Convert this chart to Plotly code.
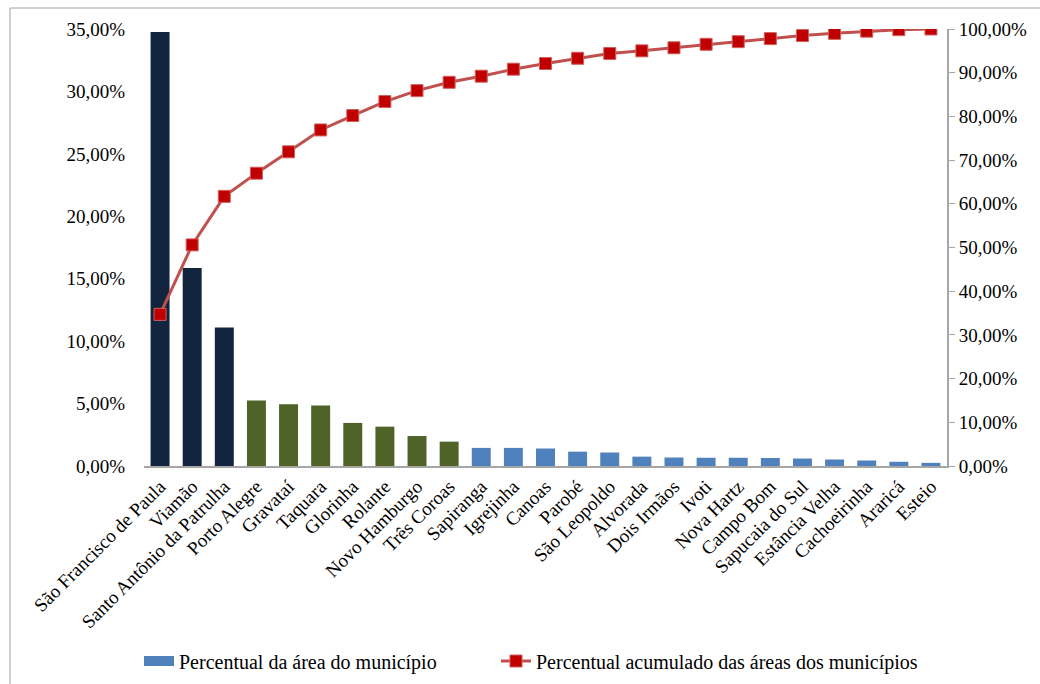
import plotly.graph_objects as go

# Municipalities ordered by share of total area
municipios = [
    "São Francisco de Paula", "Viamão", "Santo Antônio da Patrulha", "Porto Alegre",
    "Gravataí", "Taquara", "Glorinha", "Rolante", "Novo Hamburgo", "Três Coroas",
    "Sapiranga", "Igrejinha", "Canoas", "Parobé", "São Leopoldo", "Alvorada",
    "Dois Irmãos", "Ivoti", "Nova Hartz", "Campo Bom", "Sapucaia do Sul",
    "Estância Velha", "Cachoeirinha", "Araricá", "Esteio",
]

# Share of each municipality's area (%)
percentual_area = [
    34.75, 15.85, 11.10, 5.25, 4.95, 4.85, 3.45, 3.15, 2.40, 1.95,
    1.45, 1.45, 1.40, 1.15, 1.08, 0.75, 0.68, 0.66, 0.66, 0.64,
    0.60, 0.52, 0.44, 0.34, 0.25,
]

# Cumulative share of the areas (%)
percentual_acumulado = [
    34.7, 50.6, 61.7, 67.0, 71.9, 76.9, 80.2, 83.4, 85.9, 87.8,
    89.2, 90.8, 92.1, 93.3, 94.4, 95.0, 95.7, 96.5, 97.1, 97.8,
    98.5, 99.0, 99.5, 99.85, 100.0,
]

# Colour tiers for the bars: first 3, next 7, the rest
NAVY, OLIVE, BLUE = "#12243E", "#4F6228", "#4F81BD"
tiers = [(3, NAVY), (7, OLIVE), (len(municipios) - 10, BLUE)]
bar_colors = [c for n, c in tiers for _ in range(n)]

FONT = "Liberation Serif, Times New Roman, serif"
GRID = "#A6A6A6"
FS = 19

fig = go.Figure()

fig.add_trace(go.Bar(
    x=municipios, y=percentual_area,
    marker=dict(color=bar_colors, line=dict(width=0)),
    showlegend=False, yaxis="y",
))
# Legend entry for the bar series (wide blue swatch)
fig.add_trace(go.Scatter(
    x=[None], y=[None], name="Percentual da área do município",
    mode="lines", line=dict(color=BLUE, width=10), yaxis="y",
    legend="legend",
))
fig.add_trace(go.Scatter(
    x=municipios, y=percentual_acumulado,
    name="Percentual acumulado das áreas dos municípios",
    mode="lines+markers", yaxis="y2", legend="legend2",
    line=dict(color="#C0504D", width=3),
    marker=dict(symbol="square", size=12, color="#C00000",
                line=dict(color="#D0605E", width=1)),
))

legend_style = dict(
    xref="container", yref="container", xanchor="left", yanchor="middle",
    y=1 - 661 / 684, font=dict(family=FONT, size=20, color="black"),
    bgcolor="rgba(0,0,0,0)",
)

fig.update_layout(
    width=1040, height=684,
    margin=dict(l=144, r=93, t=29, b=218, autoexpand=False),
    paper_bgcolor="white", plot_bgcolor="white",
    separators=",.",
    barmode="overlay", bargap=0.41,
    font=dict(family=FONT, size=FS, color="black"),
    xaxis=dict(
        type="category", range=[-0.5, len(municipios) - 0.5],
        tickangle=-45, showgrid=False, automargin=False,
        showline=True, linecolor=GRID, linewidth=2,
        ticks="", tickfont=dict(family=FONT, size=FS),
    ),
    yaxis=dict(
        range=[0, 35], dtick=5, tickformat=".2f", ticksuffix="%",
        showgrid=False, zeroline=False, showline=False, ticks="",
        ticklabelstandoff=18, automargin=False,
        tickfont=dict(family=FONT, size=FS),
    ),
    yaxis2=dict(
        overlaying="y", side="right", range=[0, 100], dtick=10,
        tickformat=".2f", ticksuffix="%", showgrid=False, zeroline=False,
        showline=True, linecolor=GRID, linewidth=2, automargin=False,
        ticks="outside", ticklen=6, tickcolor=GRID, tickwidth=1,
        tickfont=dict(family=FONT, size=FS),
    ),
    legend=dict(x=139 / 1040, **legend_style),
    legend2=dict(x=496 / 1040, **legend_style),
    shapes=[dict(
        type="rect", xref="paper", yref="paper",
        x0=-134 / 803, x1=1.15, y0=-240 / 437, y1=1 + 21 / 437,
        line=dict(color="#A0A0A0", width=1), layer="below",
    )],
)

fig.write_html("out.html")
